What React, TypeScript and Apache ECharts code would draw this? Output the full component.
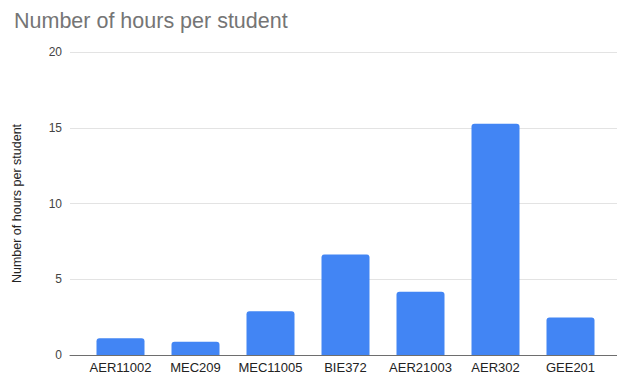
import React, { useEffect, useRef } from "react";
import * as echarts from "echarts";

const categories = ["AER11002", "MEC209", "MEC11005", "BIE372", "AER21003", "AER302", "GEE201"];
const hoursPerStudent = [1.1, 0.88, 2.89, 6.63, 4.18, 15.27, 2.47];
const yTicks = { min: 0, max: 20, interval: 5 };
const titleText = "Number of hours per student";
const yAxisTitle = "Number of hours per student";

const FONT = "'Liberation Sans', Arial, sans-serif";

export default function App() {
  const ref = useRef<HTMLDivElement>(null);
  useEffect(() => {
    if (!ref.current) return;
    const chart = echarts.init(ref.current, null, { renderer: "svg" });
    chart.setOption({
      animation: false,
      backgroundColor: "#ffffff",
      title: {
        text: titleText,
        left: 9,
        top: 5,
        textStyle: { fontFamily: FONT, fontSize: 21.5, fontWeight: "normal", color: "#757575" },
      },
      grid: [
        { left: 70, right: 0, top: 52, bottom: 20, containLabel: false },
        { left: 83, right: 9, top: 52, bottom: 20, containLabel: false },
      ],
      xAxis: [
        {
          gridIndex: 0,
          type: "value",
          min: 0,
          max: 1,
          axisLine: { show: true, onZero: false, lineStyle: { color: "#6e6e6e", width: 1 } },
          axisTick: { show: false },
          axisLabel: { show: false },
          splitLine: { show: false },
        },
        {
          gridIndex: 1,
          type: "category",
          data: categories,
          axisLine: { show: false },
          axisTick: { show: false },
          axisLabel: { fontFamily: FONT, fontSize: 13, color: "#222222", margin: 6, interval: 0 },
        },
      ],
      yAxis: [
        {
          gridIndex: 0,
          type: "value",
          min: yTicks.min,
          max: yTicks.max,
          interval: yTicks.interval,
          name: yAxisTitle,
          nameLocation: "middle",
          nameGap: 47,
          nameTextStyle: { fontFamily: FONT, fontSize: 12.5, color: "#222222" },
          axisLine: { show: false },
          axisTick: { show: false },
          axisLabel: { fontFamily: FONT, fontSize: 12, color: "#444444", margin: 8 },
          splitLine: { show: true, lineStyle: { color: "#e3e3e3", width: 1 } },
        },
        {
          gridIndex: 1,
          type: "value",
          min: yTicks.min,
          max: yTicks.max,
          interval: yTicks.interval,
          show: false,
          splitLine: { show: false },
        },
      ],
      series: [
        {
          type: "bar",
          xAxisIndex: 1,
          yAxisIndex: 1,
          data: hoursPerStudent,
          barWidth: 48,
          itemStyle: { color: "#4285F4", borderRadius: [3, 3, 0, 0] },
          z: 3,
        },
      ],
    });
    return () => chart.dispose();
  }, []);
  return <div ref={ref} style={{ width: 617, height: 375, position: "absolute", left: 0, top: 0 }} />;
}
